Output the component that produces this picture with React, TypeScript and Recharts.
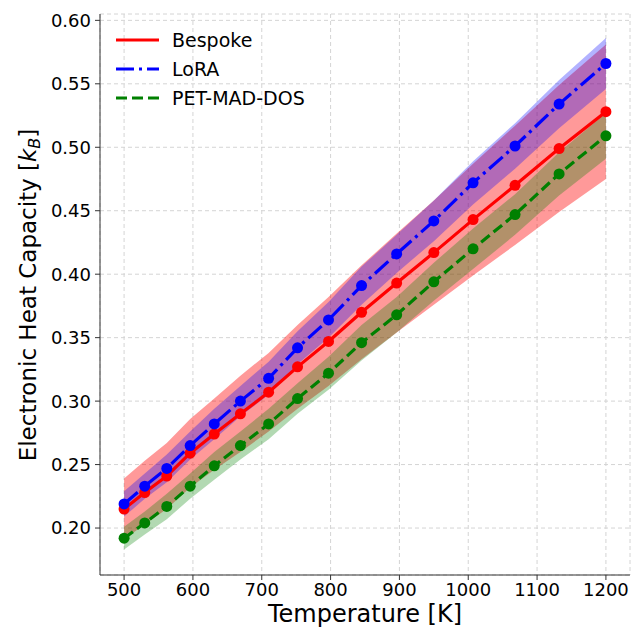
import React from "react";
import {
  ComposedChart,
  Area,
  Line,
  XAxis,
  YAxis,
  CartesianGrid,
  Label,
} from "recharts";

// temperatures (K), geometric spacing from 500 to 1200
const temps = [500, 530, 562, 596, 631, 669, 710, 752, 797, 845, 896, 950, 1007, 1068, 1132, 1200];

// mean electronic heat capacity per model
const bespoke = [0.215, 0.228, 0.241, 0.259, 0.274, 0.29, 0.307, 0.327, 0.347, 0.37, 0.393, 0.417, 0.443, 0.47, 0.499, 0.528];
const lora = [0.219, 0.233, 0.247, 0.265, 0.282, 0.3, 0.318, 0.342, 0.364, 0.391, 0.416, 0.442, 0.472, 0.501, 0.534, 0.566];
const petMadDos = [0.192, 0.204, 0.217, 0.233, 0.249, 0.265, 0.282, 0.302, 0.322, 0.346, 0.368, 0.394, 0.42, 0.447, 0.479, 0.509];

// half-width of the shaded spread
const bespokeErr = [0.024, 0.025, 0.026, 0.027, 0.028, 0.03, 0.031, 0.033, 0.035, 0.037, 0.039, 0.041, 0.044, 0.047, 0.05, 0.053];
const loraErr = [0.01, 0.01, 0.011, 0.011, 0.012, 0.012, 0.013, 0.013, 0.014, 0.015, 0.015, 0.016, 0.017, 0.018, 0.019, 0.02];
const petErr = [0.009, 0.009, 0.01, 0.01, 0.011, 0.011, 0.012, 0.012, 0.013, 0.014, 0.014, 0.015, 0.016, 0.016, 0.017, 0.018];

const xTicks = [500, 600, 700, 800, 900, 1000, 1100, 1200];
const yTicks = [0.2, 0.25, 0.3, 0.35, 0.4, 0.45, 0.5, 0.55, 0.6];

const data = temps.map((t, i) => ({
  t,
  bespoke: bespoke[i],
  lora: lora[i],
  pet: petMadDos[i],
  bespokeBand: [bespoke[i] - bespokeErr[i], bespoke[i] + bespokeErr[i]],
  loraBand: [lora[i] - loraErr[i], lora[i] + loraErr[i]],
  petBand: [petMadDos[i] - petErr[i], petMadDos[i] + petErr[i]],
}));

const FONT = "'DejaVu Sans', sans-serif";
const tickStyle = { fontSize: 18, fill: "#000", fontFamily: FONT };

const legendItems = [
  { name: "Bespoke", color: "#ff0000", dash: undefined },
  { name: "LoRA", color: "#0000ff", dash: "18 5 3 5" },
  { name: "PET-MAD-DOS", color: "#008000", dash: "11 5" },
];

const App: React.FC = () => {
  return (
    <div style={{ position: "absolute", left: 0, top: 0, width: 633, height: 633, background: "#fff" }}>
      <ComposedChart
        width={633}
        height={633}
        data={data}
        margin={{ top: 14, right: 3, bottom: 0, left: 0 }}
      >
        <CartesianGrid stroke="#d4d4d4" strokeDasharray="4 3" />
        <XAxis
          dataKey="t"
          type="number"
          domain={[465, 1235]}
          ticks={xTicks}
          height={58}
          tick={tickStyle}
          tickSize={5}
          tickMargin={3}
          stroke="#333"
          allowDataOverflow
        >
          <Label
            content={() => (
              <text x={365} y={622} textAnchor="middle" fontSize={24} fontFamily={FONT} fill="#000">
                Temperature [K]
              </text>
            )}
          />
        </XAxis>
        <XAxis xAxisId="top" orientation="top" dataKey="t" type="number" domain={[465, 1235]} height={0} tick={false} tickLine={false} stroke="#333" />
        <YAxis
          type="number"
          domain={[0.163, 0.605]}
          ticks={yTicks}
          width={100}
          tick={tickStyle}
          tickFormatter={(v: number) => v.toFixed(2)}
          tickSize={5}
          tickMargin={4}
          stroke="#333"
          allowDataOverflow
        >
          <Label
            content={() => (
              <text
                x={36}
                y={295}
                transform="rotate(-90 36 295)"
                textAnchor="middle"
                fontSize={23}
                fontFamily={FONT}
                fill="#000"
              >
                Electronic Heat Capacity [
                <tspan fontStyle="italic">k</tspan>
                <tspan fontStyle="italic" fontSize={16} dy={4}>B</tspan>
                <tspan dy={-4}>]</tspan>
              </text>
            )}
          />
        </YAxis>
        <YAxis yAxisId="right" orientation="right" domain={[0.163, 0.605]} width={0} tick={false} tickLine={false} stroke="#333" />

        <Area dataKey="bespokeBand" type="linear" stroke="none" fill="#ff0000" fillOpacity={0.4} isAnimationActive={false} activeDot={false} />
        <Area dataKey="loraBand" type="linear" stroke="none" fill="#0000ff" fillOpacity={0.3} isAnimationActive={false} activeDot={false} />
        <Area dataKey="petBand" type="linear" stroke="none" fill="#008000" fillOpacity={0.3} isAnimationActive={false} activeDot={false} />

        <Line dataKey="bespoke" type="linear" stroke="#ff0000" strokeWidth={3.2} dot={{ r: 5.5, fill: "#ff0000", stroke: "none" }} isAnimationActive={false} />
        <Line dataKey="lora" type="linear" stroke="#0000ff" strokeWidth={3.2} strokeDasharray="18 5 3 5" dot={{ r: 5.5, fill: "#0000ff", stroke: "none", strokeDasharray: "" }} isAnimationActive={false} />
        <Line dataKey="pet" type="linear" stroke="#008000" strokeWidth={3.2} strokeDasharray="11 5" dot={{ r: 5.5, fill: "#008000", stroke: "none", strokeDasharray: "" }} isAnimationActive={false} />
      </ComposedChart>

      <div style={{ position: "absolute", left: 114, top: 25, fontFamily: FONT, fontSize: 19 }}>
        {legendItems.map((it) => (
          <div key={it.name} style={{ display: "flex", alignItems: "center", height: 29 }}>
            <svg width={45} height={10} style={{ marginRight: 13 }}>
              <line x1={2} y1={5} x2={45} y2={5} stroke={it.color} strokeWidth={3.2} strokeDasharray={it.dash} />
            </svg>
            <span>{it.name}</span>
          </div>
        ))}
      </div>
    </div>
  );
};

export default App;
